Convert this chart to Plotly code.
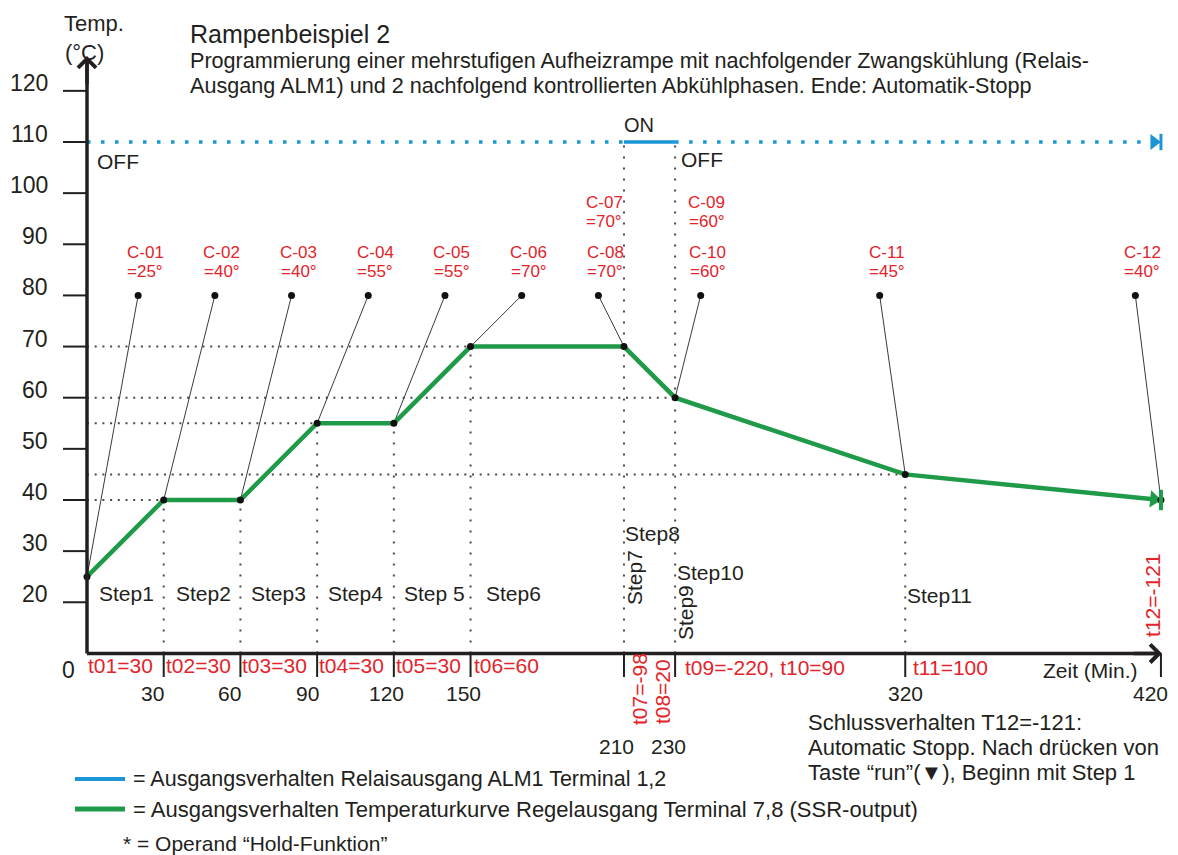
import math
import plotly.graph_objects as go

# ---------------- data ----------------
time_pts = [0, 30, 60, 90, 120, 150, 210, 230, 320, 420]      # Zeit (Min.)
temp_pts = [25, 40, 40, 55, 55, 70, 70, 60, 45, 40]           # Temp. (°C)

relay_level = 110
relay_on = [210, 230]
time_end = 420
axis_base = 10          # value where the time axis sits (labelled "0")

y_tick_vals = [20, 30, 40, 50, 60, 70, 80, 90, 100, 110, 120]
x_tick_vals = [30, 60, 90, 120, 150, 210, 230, 320, 420]
x_tick_text = ["30", "60", "90", "120", "150", "210", "230", "320", "420"]

callout_ids = ["C-01", "C-02", "C-03", "C-04", "C-05", "C-06", "C-08", "C-10", "C-11", "C-12"]
callout_vals = ["=25°", "=40°", "=40°", "=55°", "=55°", "=70°", "=70°", "=60°", "=45°", "=40°"]
callout_level = 80
extra_ids = ["C-07", "C-09"]
extra_vals = ["=70°", "=60°"]

step_names = ["Step1", "Step2", "Step3", "Step4", "Step 5", "Step6",
              "Step7", "Step8", "Step9", "Step10", "Step11"]
seg_labels = ["t01=30", "t02=30", "t03=30", "t04=30", "t05=30", "t06=60",
              "t07=-98", "t08=20", "t09=-220, t10=90", "t11=100", "t12=-121"]

# ---------------- layout helpers ----------------
W, H = 1178, 855
X0PX, KX = 87.0, 2.557        # px of t=0, px per minute
Y110PX, KY = 142.0, 5.114     # px of 110 °C, px per °C


def dx(px):
    return (px - X0PX) / KX


def dy(py):
    return 110 - (py - Y110PX) / KY


FONT = "Liberation Sans, Arial, sans-serif"
DARK = "#231f20"
RED = "#e3242b"
GREEN = "#1f9a48"
BLUE = "#1b95d5"
GRID = "#4a4a4a"

ann = []
shapes = []


def txt(x, y, s, size=21, color=DARK, xanchor="center", yanchor="middle",
        angle=0, xshift=0, yshift=0):
    ann.append(dict(x=x, y=y, xref="x", yref="y", text=s, showarrow=False,
                    font=dict(size=size, color=color, family=FONT),
                    xanchor=xanchor, yanchor=yanchor, textangle=angle,
                    xshift=xshift, yshift=yshift))


def seg(x0, y0, x1, y1, color=DARK, width=2, dash=None):
    line = dict(color=color, width=width)
    if dash:
        line["dash"] = dash
    shapes.append(dict(type="line", xref="x", yref="y", x0=x0, y0=y0,
                       x1=x1, y1=y1, line=line, layer="above"))


fig = go.Figure()

# ---- dotted guide lines derived from the vertices ----
hx, hy, vx, vy = [], [], [], []
seen = {temp_pts[0]}
for t, v in zip(time_pts[1:-1], temp_pts[1:-1]):
    if v not in seen:
        seen.add(v)
        hx += [0, t, None]
        hy += [v, v, None]
    top = relay_level if t in relay_on else v
    vx += [t, t, None]
    vy += [axis_base, top, None]
fig.add_trace(go.Scatter(x=hx, y=hy, mode="lines", hoverinfo="skip",
                         line=dict(color=GRID, width=2, dash="2px,5.7px")))
fig.add_trace(go.Scatter(x=vx, y=vy, mode="lines", hoverinfo="skip",
                         line=dict(color=GRID, width=2, dash="2px,9px")))

# ---- relay output ALM1 ----
fig.add_trace(go.Scatter(x=[0, relay_on[0], None, relay_on[1], time_end - 4],
                         y=[relay_level] * 2 + [None] + [relay_level] * 2,
                         mode="lines", hoverinfo="skip",
                         line=dict(color=BLUE, width=3.5, dash="3.5px,10.5px")))
fig.add_trace(go.Scatter(x=relay_on, y=[relay_level, relay_level], mode="lines",
                         line=dict(color=BLUE, width=3.5), hoverinfo="skip"))
tri_r = 7.0
fig.add_trace(go.Scatter(x=[time_end - tri_r / KX], y=[relay_level], mode="markers",
                         marker=dict(symbol="triangle-right", size=2 * tri_r,
                                     color=BLUE), hoverinfo="skip"))
seg(time_end, relay_level - 1.6, time_end, relay_level + 1.6, color=BLUE, width=3)

# ---- callout leader lines ----
callout_offset = [20, 20, 20, 20, 20, 20, -10, 10, -10, -10]
cx, cy, dotx = [], [], []
for t, v, off in zip(time_pts, temp_pts, callout_offset):
    cx += [t + off, t, None]
    cy += [callout_level, v, None]
    dotx.append(t + off)
fig.add_trace(go.Scatter(x=cx, y=cy, mode="lines", hoverinfo="skip",
                         line=dict(color="#3a3a3a", width=1)))

# ---- temperature curve ----
fig.add_trace(go.Scatter(x=time_pts, y=temp_pts, mode="lines",
                         line=dict(color=GREEN, width=4.5), hoverinfo="x+y"))
# arrow head at the end of the curve
dxp = (time_pts[-1] - time_pts[-2]) * KX
dyp = (temp_pts[-2] - temp_pts[-1]) * KY
ang = math.degrees(math.atan2(dyp, dxp))
L = math.hypot(dxp, dyp)
fig.add_trace(go.Scatter(x=[time_pts[-1] - tri_r * dxp / L / KX],
                         y=[temp_pts[-1] + tri_r * dyp / L / KY],
                         mode="markers", hoverinfo="skip",
                         marker=dict(symbol="triangle-right", size=2 * tri_r + 1,
                                     angle=ang, color=GREEN)))
seg(time_pts[-1], temp_pts[-1] - 2, time_pts[-1], temp_pts[-1] + 2, color=GREEN, width=4)

fig.add_trace(go.Scatter(x=time_pts, y=temp_pts, mode="markers", hoverinfo="skip",
                         marker=dict(color="#111111", size=7)))
fig.add_trace(go.Scatter(x=dotx, y=[callout_level] * len(dotx), mode="markers",
                         hoverinfo="skip", marker=dict(color="#111111", size=7)))

# ---- axes ----
seg(0, axis_base, 0, dy(62), width=3.5)
seg(0, axis_base, dx(1155), axis_base, width=3.5)
ann.append(dict(x=0, y=dy(56), xref="x", yref="y", ax=0, ay=30, text="",
                showarrow=True, arrowhead=4, arrowsize=1.0, arrowwidth=3.5,
                arrowcolor=DARK))
ann.append(dict(x=dx(1162), y=axis_base, xref="x", yref="y", ax=-30, ay=0, text="",
                showarrow=True, arrowhead=4, arrowsize=1.0, arrowwidth=3.5,
                arrowcolor=DARK))
for v in y_tick_vals:
    seg(dx(63), v, 0, v, width=2)
    txt(dx(50), v, str(v), size=23, xanchor="right", yshift=8)
txt(dx(68), dy(670), "0", size=23)
x_label_py = [693, 693, 693, 693, 693, 746, 746, 693, 693]
x_label_shift = [-11, -11, -10, -7, -7, -7, -7, 0, -10]
for v, s, py, sh in zip(x_tick_vals, x_tick_text, x_label_py, x_label_shift):
    seg(v, axis_base, v, dy(677), width=2)
    txt(v, dy(py), s, size=21, xshift=sh)
txt(dx(1090), dy(670), "Zeit (Min.)", size=21)

# ---- axis title / titles ----
txt(dx(94), dy(23), "Temp.", size=22)
txt(dx(84), dy(52), "(°C)", size=22)
txt(dx(188), dy(34), "Rampenbeispiel 2", size=25, xanchor="left")
txt(dx(188), dy(60), "Programmierung einer mehrstufigen Aufheizrampe mit nachfolgender "
    "Zwangskühlung (Relais-", size=21.6, xanchor="left")
txt(dx(188), dy(85), "Ausgang ALM1) und 2 nachfolgend kontrollierten Abkühlphasen. "
    "Ende: Automatik-Stopp", size=21.6, xanchor="left")

# ---- relay labels ----
txt(relay_on[0], dy(125), "ON", size=20, xanchor="left", xshift=-2)
txt(0, dy(161), "OFF", size=21, xanchor="left", xshift=8)
txt(relay_on[1], dy(159), "OFF", size=21, xanchor="left", xshift=4)

# ---- callout labels ----
for d, cid, cv in zip(dotx, callout_ids, callout_vals):
    txt(d, dy(252), cid, size=17, color=RED, xshift=7)
    txt(d, dy(271), cv, size=17, color=RED, xshift=7)
for d, cid, cv in zip([dotx[6], dotx[7]], extra_ids, extra_vals):
    txt(d, dy(202), cid, size=17, color=RED, xshift=6)
    txt(d, dy(221), cv, size=17, color=RED, xshift=6)

# ---- step labels ----
step_pos = [  # (time, py, angle, xanchor, xshift)
    (0, 593, 0, "left", 10), (30, 593, 0, "left", 10), (60, 593, 0, "left", 9),
    (90, 593, 0, "left", 9), (120, 593, 0, "left", 8), (150, 593, 0, "left", 13),
    (210, 577, -90, "center", 10), (210, 533, 0, "left", -1),
    (230, 613, -90, "center", 10), (230, 572, 0, "left", 0),
    (320, 595, 0, "left", 0)]
for s, (t, py, a, xa, sh) in zip(step_names, step_pos):
    txt(t, dy(py), s, size=21, angle=a, xanchor=xa, xshift=sh)

seg_pos = [
    (0, 665, 0, "left", -1), (30, 665, 0, "left", 0), (60, 665, 0, "left", 0),
    (90, 665, 0, "left", 0), (120, 665, 0, "left", 0), (150, 665, 0, "left", 1),
    (210, 689, -90, "center", 15), (230, 692, -90, "center", -13),
    (230, 667, 0, "left", 8), (320, 667, 0, "left", 6),
    (420, 595, -90, "center", -9)]
for s, (t, py, a, xa, sh) in zip(seg_labels, seg_pos):
    txt(t, dy(py), s, size=21, color=RED, angle=a, xanchor=xa, xshift=sh)

# ---- end behaviour note ----
txt(dx(806), dy(722), "Schlussverhalten T12=-121:", size=22, xanchor="left")
txt(dx(806), dy(747), "Automatic Stopp. Nach drücken von", size=22, xanchor="left")
txt(dx(806), dy(772), "Taste “run”(▼), Beginn mit Step 1", size=22, xanchor="left")

# ---- legend (drawn) ----
seg(dx(75), dy(779), dx(125), dy(779), color=BLUE, width=4)
seg(dx(75), dy(809), dx(125), dy(809), color=GREEN, width=5)
txt(dx(131), dy(779), "= Ausgangsverhalten Relaisausgang ALM1 Terminal 1,2",
    size=21.5, xanchor="left")
txt(dx(131), dy(809), "= Ausgangsverhalten Temperaturkurve Regelausgang Terminal 7,8 (SSR-output)",
    size=22, xanchor="left")
txt(dx(121), dy(843), "* = Operand “Hold-Funktion”", size=21, xanchor="left")

fig.update_xaxes(range=[dx(0), dx(W)], visible=False, fixedrange=True)
fig.update_yaxes(range=[dy(H), dy(0)], visible=False, fixedrange=True)
fig.update_layout(width=W, height=H, margin=dict(l=0, r=0, t=0, b=0, pad=0),
                  plot_bgcolor="white", paper_bgcolor="white", showlegend=False,
                  annotations=ann, shapes=shapes, font=dict(family=FONT, color=DARK))

fig.write_html("out.html", config={"displayModeBar": False},
               post_script="document.body.style.margin='0';document.body.style.overflow='hidden';")
